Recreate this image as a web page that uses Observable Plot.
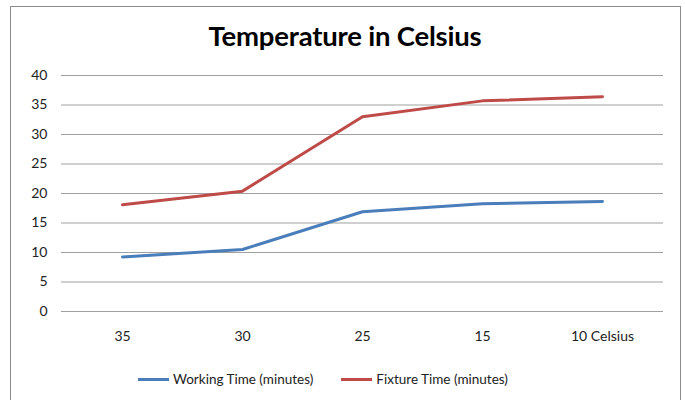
<!DOCTYPE html>
<html>
<head>
<meta charset="utf-8">
<script src="https://cdn.jsdelivr.net/npm/d3@7"></script>
<script src="https://cdn.jsdelivr.net/npm/@observablehq/plot@0.6"></script>
<style>
  html, body { margin: 0; padding: 0; background: #fff; }
  body { width: 685px; height: 400px; position: relative; overflow: hidden; font-family: Lato, "Open Sans", sans-serif; }
  #frame { position: absolute; left: 10px; top: 6px; width: 671px; height: 400px; border: 1px solid #8c8c8c; box-sizing: border-box; }
  #title { position: absolute; left: 0; width: 690px; top: 19px; text-align: center; font-size: 27.5px; font-weight: bold; color: #000; letter-spacing: -0.2px; }
  #chart { position: absolute; left: 0; top: 0; }
  #legend { position: absolute; top: 371px; left: 138px; display: flex; align-items: center; font-size: 13.5px; color: #222; }
  .item { display: flex; align-items: center; margin-right: 28px; }
  .sw { width: 31px; height: 3px; margin-right: 4px; }
</style>
</head>
<body>
<div id="frame"></div>
<div id="title">Temperature in Celsius</div>
<div id="chart"></div>
<div id="legend"></div>
<script>
const categories = ["35", "30", "25", "15", "10 Celsius"];
const seriesNames = ["Working Time (minutes)", "Fixture Time (minutes)"];
const workingTime = [9.25, 10.5, 16.9, 18.25, 18.65];
const fixtureTime = [18.1, 20.4, 33.0, 35.7, 36.4];
const colors = ["#4a7ebb", "#be4b48"];
const yTicks = [0, 5, 10, 15, 20, 25, 30, 35, 40];

const data = [];
[workingTime, fixtureTime].forEach((vals, s) => {
  vals.forEach((v, i) => data.push({ cat: categories[i], value: v, series: seriesNames[s] }));
});

const plot = Plot.plot({
  width: 685,
  height: 400,
  marginLeft: 61,
  marginRight: 22,
  marginTop: 75,
  marginBottom: 89,
  style: { background: "transparent", fontFamily: "Lato, 'Open Sans', sans-serif", fontSize: "14px", color: "#222" },
  x: { type: "point", domain: categories, padding: 0.5, label: null },
  y: { domain: [0, 40], label: null },
  color: { domain: seriesNames, range: colors },
  marks: [
    Plot.gridY(yTicks, { stroke: "#a0a0a0", strokeOpacity: 1, strokeWidth: 1 }),
    Plot.axisY(yTicks, { tickSize: 0, tickPadding: 14, label: null, fontSize: 14 }),
    Plot.axisX({ tickSize: 0, tickPadding: 20, label: null, fontSize: 14 }),
    Plot.line(data, { x: "cat", y: "value", z: "series", stroke: "series", strokeWidth: 3, curve: "linear" })
  ]
});
document.getElementById("chart").appendChild(plot);

const legend = document.getElementById("legend");
seriesNames.forEach((name, i) => {
  const item = document.createElement("div");
  item.className = "item";
  const sw = document.createElement("div");
  sw.className = "sw";
  sw.style.background = colors[i];
  const t = document.createElement("span");
  t.textContent = name;
  item.appendChild(sw);
  item.appendChild(t);
  legend.appendChild(item);
});
</script>
</body>
</html>
